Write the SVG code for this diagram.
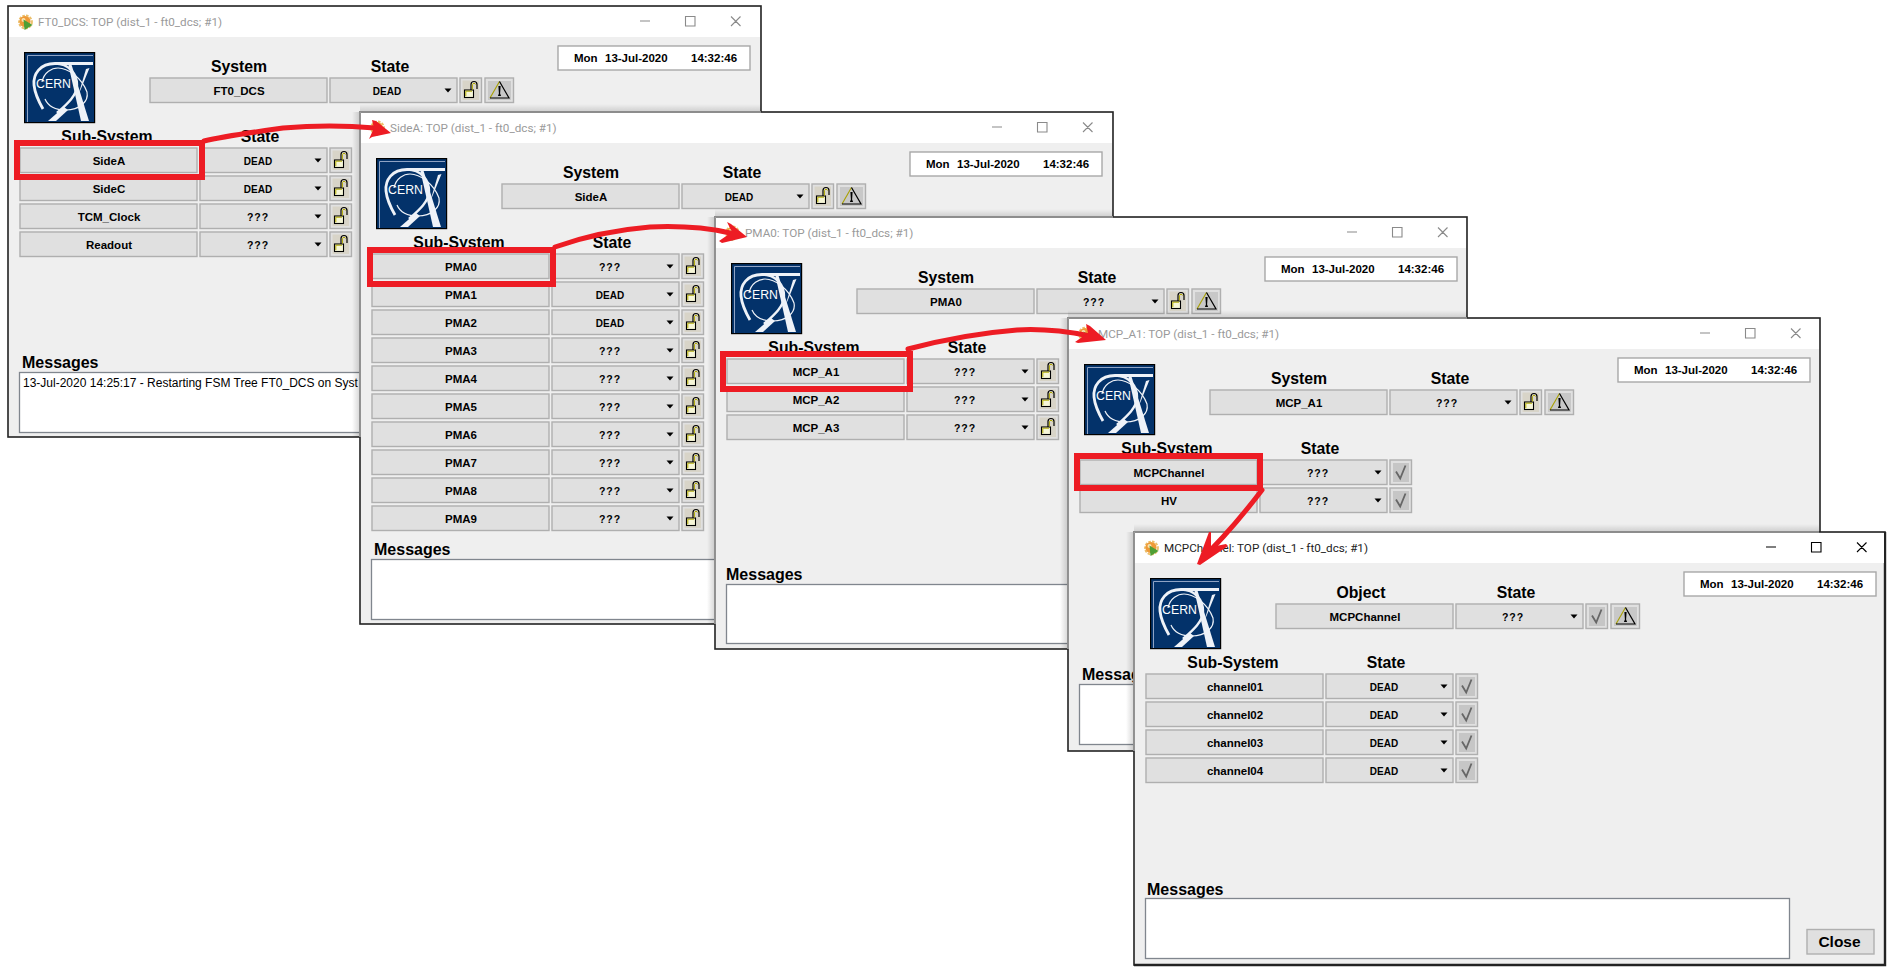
<svg xmlns="http://www.w3.org/2000/svg" width="1893" height="975" viewBox="0 0 1893 975">
<style>
text{font-family:"Liberation Sans",Arial,sans-serif;fill:#000}
.frame{fill:#efefef;stroke:#222;stroke-width:1.6}
.edge{fill:none;stroke:#a4a4a4;stroke-width:1.6}
.bar{fill:#fff}
.ttl{font-family:Roboto,"Noto Sans",sans-serif;font-size:11.7px;fill:#9a9a9a}
.act{fill:#222}
.ctl{fill:none;stroke:#8a8a8a;stroke-width:1.1}
.ctlA{fill:none;stroke:#000;stroke-width:1.1}
.h{font-size:15.8px;font-weight:700;text-anchor:middle}
.n{font-size:11.5px;font-weight:700;text-anchor:middle}
.s{font-size:10px;font-weight:700;text-anchor:middle}
.q{font-size:10.5px;font-weight:700;text-anchor:middle;letter-spacing:1px}
.d{font-size:11.5px;font-weight:700}
.m{font-size:16px;font-weight:700}
.mt{font-size:12px}
.lg{font-size:12.3px;text-anchor:middle;fill:#fff}
.bx{fill:#e0e0e0;stroke:#afafaf;stroke-width:1.4}
.tm{fill:#fff;stroke:#a8a8a8;stroke-width:1.4}
.mb{fill:#fff;stroke:#80868e;stroke-width:1.3}
.red{fill:none;stroke:#ed1c24;stroke-width:6}
.cv{fill:none;stroke:#ed1c24;stroke-width:5;stroke-linecap:round;stroke-linejoin:round}
.hd{fill:#ed1c24}
.lw{fill:#eef2f8}
.ls{fill:none;stroke:#eef2f8}
</style>
<defs>
<linearGradient id="shL" x1="0" x2="1" y1="0" y2="0"><stop offset="0" stop-color="#000" stop-opacity="0"/><stop offset="1" stop-color="#000" stop-opacity=".16"/></linearGradient>
<linearGradient id="shT" x1="0" x2="0" y1="0" y2="1"><stop offset="0" stop-color="#000" stop-opacity="0"/><stop offset="1" stop-color="#000" stop-opacity=".14"/></linearGradient>
<g id="nb"><rect class="bx" x="0" y="0" width="177" height="24.5"/></g>
<g id="sb"><rect class="bx" x="0" y="0" width="127" height="24.5"/><path d="M114.5 10.5h7l-3.5 4z" fill="#000"/></g>
<g id="lk"><rect class="bx" x="0" y="0" width="21.5" height="24.5"/><rect x="2.5" y="2.5" width="16.5" height="19.5" fill="#d8d4c8"/><rect x="4.5" y="12" width="9" height="7.5" fill="#f6f6d8" stroke="#000" stroke-width="1.1"/><path d="M5.8 18.2V13.2H12" fill="none" stroke="#b0a800" stroke-width="1"/><path d="M11 12V6.5a3 3 0 0 1 6 0V11" fill="none" stroke="#000" stroke-width="1.2"/><path d="M12.4 11.5V6.5a1.7 1.7 0 0 1 3.2 0" fill="none" stroke="#b0a800" stroke-width="1"/></g>
<g id="wn"><rect class="bx" x="0" y="0" width="28.5" height="24.5"/><rect x="3" y="3" width="23" height="19" fill="#c8c8c8"/><path d="M14.5 3.5L5 20" fill="none" stroke="#a8a000" stroke-width="1.1"/><path d="M14.5 3.5L24 20H5" fill="none" stroke="#000" stroke-width="1.2"/><path d="M13.4 8h2.2l-.5 7.5 1 2.5h-3.2l1-2.5z" fill="#000"/></g>
<g id="ck"><rect class="bx" x="0" y="0" width="21.5" height="24.5"/><rect x="3" y="3" width="16" height="19" fill="#c6c6c6"/><path d="M6 11.5L10.2 18.5L15.5 5.5" fill="none" stroke="#666" stroke-width="1.8"/></g>
<g id="logo"><rect x=".6" y=".6" width="70" height="70" fill="#03326a" stroke="#000" stroke-width="1.2"/><path d="M3.5 70V3.5H69" fill="none" stroke="#8fa3c4" stroke-width="1"/>
<path class="ls" stroke-width="3.2" d="M31 11.500H69"/>
<path class="ls" stroke-width="2.800" d="M31 11.500C16 11.500 9 22 10 33C11 43 15 50 19 57"/>
<path class="ls" stroke-width="2.400" d="M31 11.500C45 11.500 53 22 53 33C53 44 42 53 33 61"/>
<path class="lw" d="M24 69L40 55L44 58L32 69z"/>
<path class="ls" stroke-width="1.200" d="M18 30C20 20 28 16 34 16C44 16 58 26 63 40C65 50 55 58 42 58C32 58 24 54 21 47"/>
<path class="lw" d="M44 11L47 11L65 69L57 69z"/>
<path class="lw" d="M65.500 16L62 17L54 44z"/></g>
<g id="gear"><circle cx="7.500" cy="8" r="6.500" fill="none" stroke="#ecc06a" stroke-width="1.800" stroke-dasharray="2.600 1.200"/><circle cx="7" cy="7.500" r="5.600" fill="#ee9a38"/><circle cx="5.500" cy="6" r="2" fill="#fbe3b0"/><path d="M5.500 5.500L14.500 11L6.500 16z" fill="#4f9f35"/></g>
</defs>

<g id="window-ft0-dcs" transform="translate(8,6)">
<rect class="frame" x="0" y="0" width="753" height="431"/><rect class="bar" x="1" y="1" width="751" height="30"/>
<use href="#gear" x="10" y="8"/><text class="ttl" x="30" y="20">FT0_DCS: TOP (dist_1 - ft0_dcs; #1)</text>
<path class="ctl" d="M632 15h10M677.500 10.500h9.500v9.500h-9.500zM723 10.500l9.500 9.500M732.500 10.500l-9.500 9.500"/>
<use href="#logo" x="16" y="46"/><text class="lg" x="45.500" y="82">CERN</text>
<text class="h" x="231" y="66">System</text><text class="h" x="382" y="66">State</text>
<use href="#nb" x="142" y="72"/><text class="n" x="231" y="89">FT0_DCS</text><use href="#sb" x="322" y="72"/><text class="s" x="379" y="89">DEAD</text><use href="#lk" x="452" y="72"/><use href="#wn" x="477" y="72"/>
<rect class="tm" x="550" y="40" width="192" height="24"/><text class="d" x="566" y="56">Mon</text><text class="d" x="597" y="56">13-Jul-2020</text><text class="d" x="683" y="56">14:32:46</text>
<text class="h" x="99" y="136">Sub-System</text><text class="h" x="252" y="136">State</text>
<use href="#nb" x="12" y="142"/><text class="n" x="101" y="159">SideA</text><use href="#sb" x="192" y="142"/><text class="s" x="250" y="159">DEAD</text><use href="#lk" x="322" y="142"/>
<use href="#nb" x="12" y="170"/><text class="n" x="101" y="187">SideC</text><use href="#sb" x="192" y="170"/><text class="s" x="250" y="187">DEAD</text><use href="#lk" x="322" y="170"/>
<use href="#nb" x="12" y="198"/><text class="n" x="101" y="215">TCM_Clock</text><use href="#sb" x="192" y="198"/><text class="q" x="250" y="215">???</text><use href="#lk" x="322" y="198"/>
<use href="#nb" x="12" y="226"/><text class="n" x="101" y="243">Readout</text><use href="#sb" x="192" y="226"/><text class="q" x="250" y="243">???</text><use href="#lk" x="322" y="226"/>
<text class="m" x="14" y="362">Messages</text><rect class="mb" x="11.500" y="366.500" width="648" height="60"/><text class="mt" x="15" y="381">13-Jul-2020 14:25:17 - Restarting FSM Tree FT0_DCS on Syst</text>
</g>

<g id="window-sidea" transform="translate(360,112)">
<rect x="-8" y="0" width="8" height="325" fill="url(#shL)"/><rect x="0" y="-8" width="401" height="8" fill="url(#shT)"/>
<rect class="frame" x="0" y="0" width="753" height="512"/><path class="edge" d="M0 325V0H401"/><rect class="bar" x="1" y="1" width="751" height="30"/>
<use href="#gear" x="10" y="8"/><text class="ttl" x="30" y="20">SideA: TOP (dist_1 - ft0_dcs; #1)</text>
<path class="ctl" d="M632 15h10M677.500 10.500h9.500v9.500h-9.500zM723 10.500l9.500 9.500M732.500 10.500l-9.500 9.500"/>
<use href="#logo" x="16" y="46"/><text class="lg" x="45.500" y="82">CERN</text>
<text class="h" x="231" y="66">System</text><text class="h" x="382" y="66">State</text>
<use href="#nb" x="142" y="72"/><text class="n" x="231" y="89">SideA</text><use href="#sb" x="322" y="72"/><text class="s" x="379" y="89">DEAD</text><use href="#lk" x="452" y="72"/><use href="#wn" x="477" y="72"/>
<rect class="tm" x="550" y="40" width="192" height="24"/><text class="d" x="566" y="56">Mon</text><text class="d" x="597" y="56">13-Jul-2020</text><text class="d" x="683" y="56">14:32:46</text>
<text class="h" x="99" y="136">Sub-System</text><text class="h" x="252" y="136">State</text>
<use href="#nb" x="12" y="142"/><text class="n" x="101" y="159">PMA0</text><use href="#sb" x="192" y="142"/><text class="q" x="250" y="159">???</text><use href="#lk" x="322" y="142"/>
<use href="#nb" x="12" y="170"/><text class="n" x="101" y="187">PMA1</text><use href="#sb" x="192" y="170"/><text class="s" x="250" y="187">DEAD</text><use href="#lk" x="322" y="170"/>
<use href="#nb" x="12" y="198"/><text class="n" x="101" y="215">PMA2</text><use href="#sb" x="192" y="198"/><text class="s" x="250" y="215">DEAD</text><use href="#lk" x="322" y="198"/>
<use href="#nb" x="12" y="226"/><text class="n" x="101" y="243">PMA3</text><use href="#sb" x="192" y="226"/><text class="q" x="250" y="243">???</text><use href="#lk" x="322" y="226"/>
<use href="#nb" x="12" y="254"/><text class="n" x="101" y="271">PMA4</text><use href="#sb" x="192" y="254"/><text class="q" x="250" y="271">???</text><use href="#lk" x="322" y="254"/>
<use href="#nb" x="12" y="282"/><text class="n" x="101" y="299">PMA5</text><use href="#sb" x="192" y="282"/><text class="q" x="250" y="299">???</text><use href="#lk" x="322" y="282"/>
<use href="#nb" x="12" y="310"/><text class="n" x="101" y="327">PMA6</text><use href="#sb" x="192" y="310"/><text class="q" x="250" y="327">???</text><use href="#lk" x="322" y="310"/>
<use href="#nb" x="12" y="338"/><text class="n" x="101" y="355">PMA7</text><use href="#sb" x="192" y="338"/><text class="q" x="250" y="355">???</text><use href="#lk" x="322" y="338"/>
<use href="#nb" x="12" y="366"/><text class="n" x="101" y="383">PMA8</text><use href="#sb" x="192" y="366"/><text class="q" x="250" y="383">???</text><use href="#lk" x="322" y="366"/>
<use href="#nb" x="12" y="394"/><text class="n" x="101" y="411">PMA9</text><use href="#sb" x="192" y="394"/><text class="q" x="250" y="411">???</text><use href="#lk" x="322" y="394"/>
<text class="m" x="14" y="443">Messages</text><rect class="mb" x="11.500" y="447.500" width="648" height="60"/>
</g>

<g id="window-pma0" transform="translate(715,217)">
<rect x="-8" y="0" width="8" height="407" fill="url(#shL)"/><rect x="0" y="-8" width="398" height="8" fill="url(#shT)"/>
<rect class="frame" x="0" y="0" width="752" height="432"/><path class="edge" d="M0 407V0H398"/><rect class="bar" x="1" y="1" width="750" height="30"/>
<use href="#gear" x="10" y="8"/><text class="ttl" x="30" y="20">PMA0: TOP (dist_1 - ft0_dcs; #1)</text>
<path class="ctl" d="M632 15h10M677.500 10.500h9.500v9.500h-9.500zM723 10.500l9.500 9.500M732.500 10.500l-9.500 9.500"/>
<use href="#logo" x="16" y="46"/><text class="lg" x="45.500" y="82">CERN</text>
<text class="h" x="231" y="66">System</text><text class="h" x="382" y="66">State</text>
<use href="#nb" x="142" y="72"/><text class="n" x="231" y="89">PMA0</text><use href="#sb" x="322" y="72"/><text class="q" x="379" y="89">???</text><use href="#lk" x="452" y="72"/><use href="#wn" x="477" y="72"/>
<rect class="tm" x="550" y="40" width="192" height="24"/><text class="d" x="566" y="56">Mon</text><text class="d" x="597" y="56">13-Jul-2020</text><text class="d" x="683" y="56">14:32:46</text>
<text class="h" x="99" y="136">Sub-System</text><text class="h" x="252" y="136">State</text>
<use href="#nb" x="12" y="142"/><text class="n" x="101" y="159">MCP_A1</text><use href="#sb" x="192" y="142"/><text class="q" x="250" y="159">???</text><use href="#lk" x="322" y="142"/>
<use href="#nb" x="12" y="170"/><text class="n" x="101" y="187">MCP_A2</text><use href="#sb" x="192" y="170"/><text class="q" x="250" y="187">???</text><use href="#lk" x="322" y="170"/>
<use href="#nb" x="12" y="198"/><text class="n" x="101" y="215">MCP_A3</text><use href="#sb" x="192" y="198"/><text class="q" x="250" y="215">???</text><use href="#lk" x="322" y="198"/>
<text class="m" x="11" y="363">Messages</text><rect class="mb" x="11.500" y="367.500" width="648" height="59"/>
</g>

<g id="window-mcp-a1" transform="translate(1068,318)">
<rect x="-8" y="0" width="8" height="331" fill="url(#shL)"/><rect x="0" y="-8" width="399" height="8" fill="url(#shT)"/>
<rect class="frame" x="0" y="0" width="752" height="433"/><path class="edge" d="M0 331V0H399"/><rect class="bar" x="1" y="1" width="750" height="30"/>
<use href="#gear" x="10" y="8"/><text class="ttl" x="30" y="20">MCP_A1: TOP (dist_1 - ft0_dcs; #1)</text>
<path class="ctl" d="M632 15h10M677.500 10.500h9.500v9.500h-9.500zM723 10.500l9.500 9.500M732.500 10.500l-9.500 9.500"/>
<use href="#logo" x="16" y="46"/><text class="lg" x="45.500" y="82">CERN</text>
<text class="h" x="231" y="66">System</text><text class="h" x="382" y="66">State</text>
<use href="#nb" x="142" y="72"/><text class="n" x="231" y="89">MCP_A1</text><use href="#sb" x="322" y="72"/><text class="q" x="379" y="89">???</text><use href="#lk" x="452" y="72"/><use href="#wn" x="477" y="72"/>
<rect class="tm" x="550" y="40" width="192" height="24"/><text class="d" x="566" y="56">Mon</text><text class="d" x="597" y="56">13-Jul-2020</text><text class="d" x="683" y="56">14:32:46</text>
<text class="h" x="99" y="136">Sub-System</text><text class="h" x="252" y="136">State</text>
<use href="#nb" x="12" y="142"/><text class="n" x="101" y="159">MCPChannel</text><use href="#sb" x="192" y="142"/><text class="q" x="250" y="159">???</text><use href="#ck" x="322" y="142"/>
<use href="#nb" x="12" y="170"/><text class="n" x="101" y="187">HV</text><use href="#sb" x="192" y="170"/><text class="q" x="250" y="187">???</text><use href="#ck" x="322" y="170"/>
<text class="m" x="14" y="362">Messages</text><rect class="mb" x="11.500" y="366.500" width="648" height="60"/>
</g>

<g id="window-mcpchannel" transform="translate(1134,532)">
<rect x="-8" y="0" width="8" height="219" fill="url(#shL)"/><rect x="0" y="-8" width="685" height="8" fill="url(#shT)"/>
<rect class="frame" x="0" y="0" width="751" height="433"/><path d="M751 0V433H0" fill="none" stroke="#222" stroke-width="2.400"/><path class="edge" d="M0 219V0H685"/><rect class="bar" x="1" y="1" width="749" height="30"/>
<use href="#gear" x="10" y="8"/><text class="ttl act" x="30" y="20">MCPChannel: TOP (dist_1 - ft0_dcs; #1)</text>
<path class="ctlA" d="M632 15h10M677.500 10.500h9.500v9.500h-9.500zM723 10.500l9.500 9.500M732.500 10.500l-9.500 9.500"/>
<use href="#logo" x="16" y="46"/><text class="lg" x="45.500" y="82">CERN</text>
<text class="h" x="227" y="66">Object</text><text class="h" x="382" y="66">State</text>
<use href="#nb" x="142" y="72"/><text class="n" x="231" y="89">MCPChannel</text><use href="#sb" x="322" y="72"/><text class="q" x="379" y="89">???</text><use href="#ck" x="452" y="72"/><use href="#wn" x="477" y="72"/>
<rect class="tm" x="550" y="40" width="192" height="24"/><text class="d" x="566" y="56">Mon</text><text class="d" x="597" y="56">13-Jul-2020</text><text class="d" x="683" y="56">14:32:46</text>
<text class="h" x="99" y="136">Sub-System</text><text class="h" x="252" y="136">State</text>
<use href="#nb" x="12" y="142"/><text class="n" x="101" y="159">channel01</text><use href="#sb" x="192" y="142"/><text class="s" x="250" y="159">DEAD</text><use href="#ck" x="322" y="142"/>
<use href="#nb" x="12" y="170"/><text class="n" x="101" y="187">channel02</text><use href="#sb" x="192" y="170"/><text class="s" x="250" y="187">DEAD</text><use href="#ck" x="322" y="170"/>
<use href="#nb" x="12" y="198"/><text class="n" x="101" y="215">channel03</text><use href="#sb" x="192" y="198"/><text class="s" x="250" y="215">DEAD</text><use href="#ck" x="322" y="198"/>
<use href="#nb" x="12" y="226"/><text class="n" x="101" y="243">channel04</text><use href="#sb" x="192" y="226"/><text class="s" x="250" y="243">DEAD</text><use href="#ck" x="322" y="226"/>
<text class="m" x="13" y="363">Messages</text><rect class="mb" x="11.500" y="366.500" width="644" height="60"/>
<rect class="bx" x="673" y="397.500" width="67" height="24.500"/><text class="h" x="705.500" y="415" style="font-size:15.500px">Close</text>
</g>

<g id="connectors">
<rect class="red" x="17" y="143" width="185" height="34"/>
<rect class="red" x="370" y="250" width="183" height="34"/>
<rect class="red" x="723" y="354" width="187" height="35"/>
<rect class="red" x="1077" y="456" width="183" height="32"/>
<path class="cv" d="M204 141Q225 136 283 128Q330 124 375 128"/>
<path class="hd" d="M372 120L376 121L391 133L372 137L369 139L374 128z"/>
<path class="cv" d="M555 247Q600 231 650 227Q695 225 730 233"/>
<path class="hd" d="M727 222L731 224L747 237L722 243L719 241L732 232z"/>
<path class="cv" d="M908 349Q965 334 1017 330Q1050 328 1090 336"/>
<path class="hd" d="M1086 324L1090 326L1106 340L1078 343L1075 342L1088 333z"/>
<path class="cv" d="M1262 490Q1243 515 1223 537L1206 555"/>
<path class="hd" d="M1209 532L1211 532L1211 547L1226 544L1228 546L1200 565L1197 564z"/>
</g>
</svg>
